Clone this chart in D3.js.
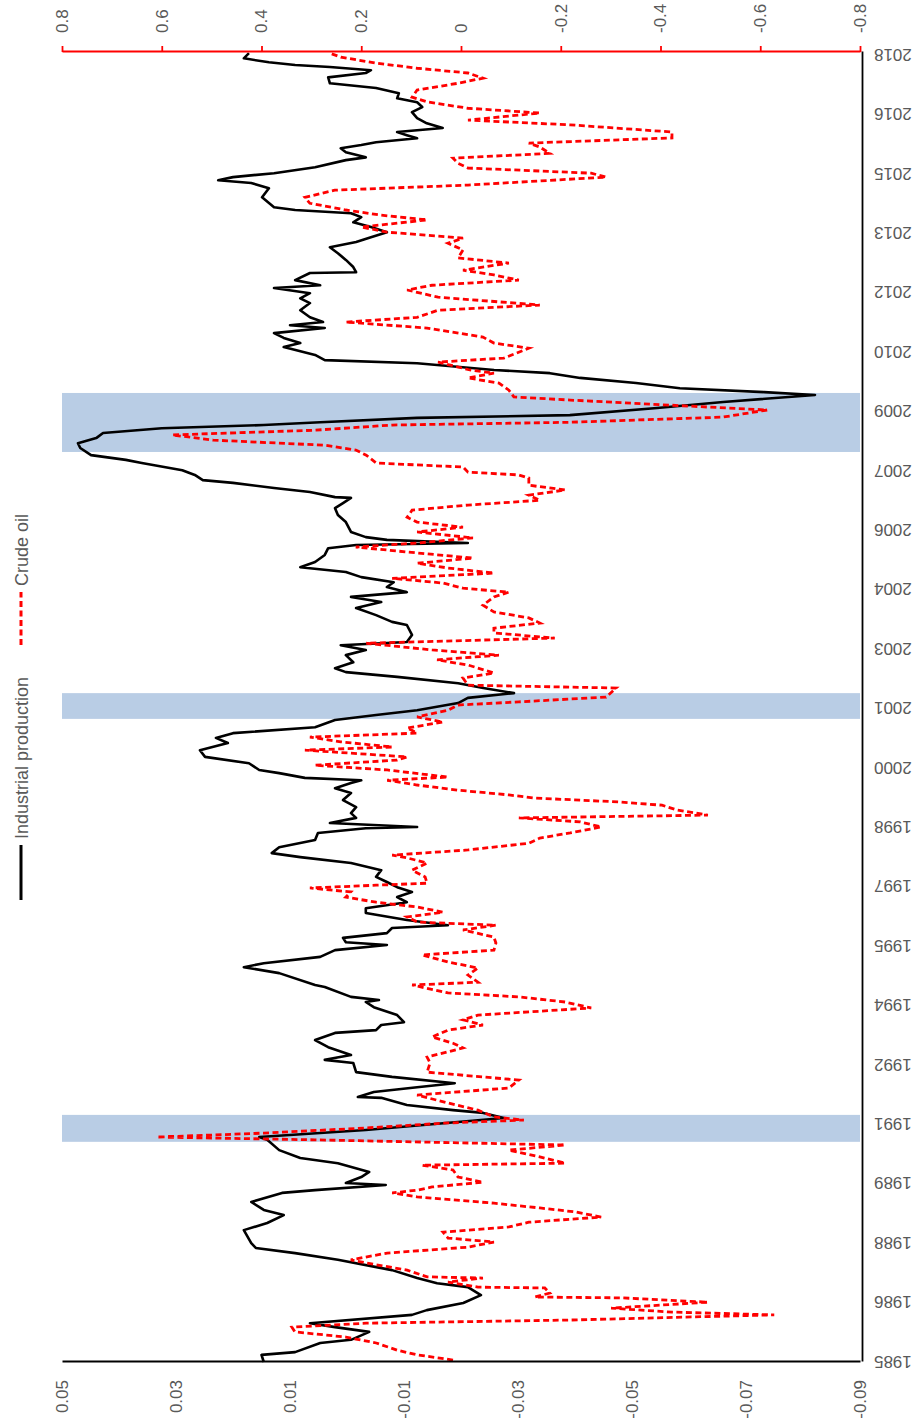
<!DOCTYPE html>
<html><head><meta charset="utf-8">
<script src="https://cdn.jsdelivr.net/npm/d3@7"></script>
<style>html,body{margin:0;padding:0;background:#fff;} svg{display:block;}</style>
</head><body>
<svg id="c" width="919" height="1427"></svg>
<script>
// ---------- data ----------
const seriesNames = ["Industrial production", "Crude oil"];
const ipTicks = [0.05, 0.03, 0.01, -0.01, -0.03, -0.05, -0.07, -0.09];
const ipTickLabels = ["0.05", "0.03", "0.01", "-0.01", "-0.03", "-0.05", "-0.07", "-0.09"];
const oilTicks = [0.8, 0.6, 0.4, 0.2, 0, -0.2, -0.4, -0.6, -0.8];
const oilTickLabels = ["0.8", "0.6", "0.4", "0.2", "0", "-0.2", "-0.4", "-0.6", "-0.8"];
const yearTicks = [1985, 1986.5, 1988, 1989.5, 1991, 1992.5, 1994, 1995.5, 1997, 1998.5, 2000, 2001.5,
  2003, 2004.5, 2006, 2007.5, 2009, 2010.5, 2012, 2013.5, 2015, 2016.5, 2018];
const yearTickLabels = ["1985", "1986", "1988", "1989", "1991", "1992", "1994", "1995", "1997", "1998", "2000", "2001",
  "2003", "2004", "2006", "2007", "2009", "2010", "2012", "2013", "2015", "2016", "2018"];
const recessions = [[1990.56, 1991.24], [2001.24, 2001.89], [2007.98, 2009.47]];

// [decimal year, value]
const industrialProduction = [
[1985.00,0.0146],[1985.18,0.0150],[1985.25,0.0091],[1985.48,0.0047],[1985.56,-0.0007],[1985.76,-0.0039],
[1985.88,0.0021],[1985.98,0.0065],[1986.19,-0.0114],[1986.31,-0.0140],[1986.49,-0.0204],[1986.69,-0.0235],
[1986.89,-0.0212],[1986.99,-0.0158],[1987.12,-0.0123],[1987.32,-0.0079],[1987.58,0.0016],[1987.75,0.0091],
[1987.88,0.0160],[1988.00,0.0168],[1988.33,0.0181],[1988.51,0.0140],[1988.71,0.0111],[1988.84,0.0146],
[1989.04,0.0168],[1989.27,0.0114],[1989.34,0.0056],[1989.47,-0.0068],[1989.52,0.0002],[1989.67,-0.0025],
[1989.80,-0.0039],[1990.02,0.0016],[1990.15,0.0082],[1990.35,0.0119],[1990.61,0.0140],[1990.68,0.0154],
[1990.86,-0.0033],[1991.16,-0.0275],[1991.29,-0.0239],[1991.36,-0.0186],[1991.49,-0.0105],[1991.67,-0.0060],
[1991.69,-0.0019],[1991.82,-0.0047],[1991.94,-0.0123],[1992.04,-0.0189],[1992.20,-0.0079],[1992.32,-0.0016],
[1992.55,-0.0011],[1992.63,0.0039],[1992.75,-0.0007],[1992.95,0.0033],[1993.13,0.0056],[1993.31,0.0021],
[1993.38,-0.0051],[1993.51,-0.0060],[1993.58,-0.0100],[1993.76,-0.0088],[1993.96,-0.0047],[1994.09,-0.0033],
[1994.14,-0.0056],[1994.22,-0.0007],[1994.47,0.0039],[1994.52,0.0056],[1994.82,0.0119],[1994.97,0.0181],
[1995.07,0.0146],[1995.23,0.0047],[1995.40,0.0021],[1995.53,-0.0070],[1995.60,0.0002],[1995.71,0.0007],
[1995.83,-0.0070],[1995.96,-0.0079],[1996.03,-0.0177],[1996.16,-0.0105],[1996.34,-0.0033],[1996.46,-0.0033],
[1996.61,-0.0105],[1996.74,-0.0088],[1996.87,-0.0114],[1996.99,-0.0088],[1997.12,-0.0070],[1997.25,-0.0051],
[1997.42,-0.0060],[1997.60,-0.0007],[1997.75,0.0082],[1997.85,0.0132],[1998.00,0.0119],[1998.18,0.0056],
[1998.36,0.0051],[1998.48,-0.0033],[1998.51,-0.0123],[1998.61,0.0030],[1998.74,-0.0016],[1998.86,-0.0007],
[1999.01,-0.0016],[1999.19,0.0007],[1999.37,-0.0007],[1999.49,0.0021],[1999.62,-0.0007],[1999.69,-0.0025],
[1999.75,0.0074],[1999.87,0.0119],[1999.95,0.0154],[2000.12,0.0172],[2000.28,0.0249],[2000.45,0.0258],
[2000.63,0.0209],[2000.76,0.0230],[2000.88,0.0200],[2001.03,0.0056],[2001.21,0.0021],[2001.34,-0.0051],
[2001.46,-0.0123],[2001.64,-0.0195],[2001.77,-0.0212],[2001.89,-0.0293],[2002.02,-0.0239],[2002.14,-0.0195],
[2002.30,-0.0088],[2002.42,0.0002],[2002.52,0.0021],[2002.67,-0.0011],[2002.85,0.0002],[2002.98,-0.0033],
[2003.10,0.0011],[2003.18,-0.0105],[2003.36,-0.0114],[2003.61,-0.0105],[2003.69,-0.0079],[2003.86,-0.0051],
[2004.04,-0.0016],[2004.19,-0.0060],[2004.32,-0.0007],[2004.44,-0.0105],[2004.57,-0.0070],[2004.69,-0.0082],
[2004.82,-0.0025],[2004.95,0.0002],[2005.07,0.0082],[2005.20,0.0056],[2005.38,0.0039],[2005.55,0.0033],
[2005.63,-0.0016],[2005.68,-0.0212],[2005.76,-0.0070],[2005.83,-0.0033],[2005.96,-0.0007],[2006.21,0.0002],
[2006.39,0.0016],[2006.56,0.0021],[2006.69,0.0007],[2006.82,-0.0007],[2006.84,0.0021],[2006.97,0.0065],
[2007.07,0.0128],[2007.20,0.0200],[2007.27,0.0253],[2007.40,0.0267],[2007.52,0.0289],[2007.70,0.0360],
[2007.78,0.0388],[2007.90,0.0449],[2008.08,0.0468],[2008.20,0.0472],[2008.33,0.0440],[2008.46,0.0428],
[2008.58,0.0325],[2008.66,0.0146],[2008.73,0.0047],[2008.84,-0.0123],[2008.91,-0.0391],[2009.09,-0.0544],
[2009.24,-0.0660],[2009.42,-0.0821],[2009.49,-0.0732],[2009.59,-0.0584],[2009.72,-0.0507],[2009.85,-0.0409],
[2009.97,-0.0356],[2010.05,-0.0258],[2010.22,-0.0123],[2010.30,0.0039],[2010.43,0.0056],[2010.63,0.0111],
[2010.73,0.0082],[2010.86,0.0111],[2010.98,0.0128],[2011.11,0.0039],[2011.18,0.0100],[2011.26,0.0042],
[2011.38,0.0065],[2011.56,0.0082],[2011.74,0.0065],[2011.86,0.0082],[2011.99,0.0065],[2012.12,0.0128],
[2012.19,0.0047],[2012.32,0.0091],[2012.50,0.0065],[2012.52,-0.0016],[2012.65,-0.0011],[2012.83,0.0002],
[2013.00,0.0016],[2013.15,0.0030],[2013.28,-0.0016],[2013.40,-0.0042],[2013.53,-0.0070],[2013.66,-0.0042],
[2013.78,-0.0011],[2013.91,-0.0025],[2014.01,-0.0007],[2014.09,0.0091],[2014.16,0.0128],[2014.41,0.0149],
[2014.64,0.0137],[2014.77,0.0168],[2014.84,0.0226],[2014.92,0.0200],[2015.02,0.0128],[2015.17,0.0056],
[2015.35,0.0002],[2015.42,-0.0033],[2015.55,0.0002],[2015.65,0.0011],[2015.73,-0.0025],[2015.80,-0.0051],
[2015.90,-0.0123],[2015.98,-0.0105],[2016.06,-0.0088],[2016.16,-0.0168],[2016.28,-0.0140],[2016.41,-0.0123],
[2016.56,-0.0114],[2016.69,-0.0132],[2016.81,-0.0123],[2016.91,-0.0088],[2017.04,-0.0091],[2017.17,-0.0051],
[2017.29,0.0030],[2017.44,0.0033],[2017.55,-0.0033],[2017.62,-0.0042],[2017.70,0.0030],[2017.75,0.0091],
[2017.82,0.0137],[2017.92,0.0181],[2018.05,0.0172]
];

const crudeOil = [
[1985.05,0.016],[1985.18,0.088],[1985.30,0.128],[1985.48,0.170],[1985.63,0.231],[1985.76,0.333],
[1985.88,0.339],[1985.98,0.190],[1986.06,-0.219],[1986.19,-0.628],[1986.26,-0.423],[1986.36,-0.301],
[1986.51,-0.495],[1986.62,-0.321],[1986.64,-0.148],[1986.74,-0.178],[1986.87,-0.168],[1986.89,-0.034],
[1987.02,0.026],[1987.12,-0.044],[1987.15,0.068],[1987.32,0.108],[1987.50,0.190],[1987.58,0.221],
[1987.75,0.148],[1987.90,-0.014],[1988.03,-0.066],[1988.13,0.026],[1988.28,0.036],[1988.41,-0.096],
[1988.53,-0.136],[1988.66,-0.281],[1988.79,-0.229],[1988.89,-0.158],[1989.01,-0.066],[1989.17,0.088],
[1989.27,0.138],[1989.34,0.088],[1989.42,0.058],[1989.54,-0.044],[1989.67,0.006],[1989.85,0.016],
[1989.97,0.078],[1990.02,-0.209],[1990.18,-0.158],[1990.35,-0.096],[1990.48,-0.209],[1990.61,0.293],
[1990.68,0.610],[1990.78,0.395],[1990.91,0.190],[1991.03,0.036],[1991.11,-0.126],[1991.19,-0.066],
[1991.36,-0.034],[1991.54,0.026],[1991.74,0.088],[1991.92,-0.096],[1992.12,-0.116],[1992.32,0.068],
[1992.55,0.062],[1992.70,0.068],[1992.93,-0.004],[1993.05,0.016],[1993.21,0.058],[1993.38,0.026],
[1993.51,-0.044],[1993.64,-0.004],[1993.76,-0.034],[1993.94,-0.261],[1994.09,-0.209],[1994.22,-0.116],
[1994.32,0.026],[1994.52,0.098],[1994.59,-0.034],[1994.77,-0.014],[1994.95,-0.034],[1995.10,0.026],
[1995.28,0.078],[1995.40,-0.066],[1995.58,-0.070],[1995.73,-0.066],[1995.91,-0.004],[1996.03,-0.070],
[1996.11,0.088],[1996.24,0.108],[1996.36,0.036],[1996.49,0.088],[1996.61,0.170],[1996.74,0.231],
[1996.87,0.221],[1996.97,0.303],[1997.04,0.170],[1997.09,0.068],[1997.25,0.072],[1997.42,0.098],
[1997.60,0.068],[1997.73,0.108],[1997.80,0.138],[1997.93,-0.014],[1998.10,-0.136],[1998.23,-0.158],
[1998.36,-0.219],[1998.51,-0.281],[1998.64,-0.239],[1998.74,-0.116],[1998.81,-0.495],[1998.94,-0.433],
[1999.06,-0.403],[1999.14,-0.321],[1999.24,-0.148],[1999.32,-0.096],[1999.44,0.006],[1999.57,0.088],
[1999.69,0.148],[1999.77,0.026],[1999.95,0.148],[2000.07,0.293],[2000.20,0.128],[2000.28,0.108],
[2000.45,0.313],[2000.53,0.138],[2000.66,0.241],[2000.78,0.303],[2000.88,0.088],[2001.01,0.108],
[2001.16,0.036],[2001.29,0.088],[2001.46,0.026],[2001.59,0.006],[2001.67,-0.116],[2001.79,-0.291],
[2002.02,-0.311],[2002.09,-0.014],[2002.27,-0.004],[2002.40,-0.066],[2002.60,-0.014],[2002.73,0.048],
[2002.85,-0.076],[2002.98,0.058],[2003.15,0.190],[2003.28,-0.188],[2003.41,-0.066],[2003.53,-0.066],
[2003.66,-0.158],[2003.79,-0.136],[2003.94,-0.066],[2004.11,-0.044],[2004.32,-0.066],[2004.44,-0.096],
[2004.54,-0.004],[2004.67,0.036],[2004.79,0.138],[2004.92,-0.066],[2005.05,0.026],[2005.17,0.088],
[2005.30,-0.024],[2005.43,0.088],[2005.58,0.211],[2005.68,0.088],[2005.81,-0.024],[2005.96,0.088],
[2006.08,-0.004],[2006.21,0.088],[2006.33,0.108],[2006.51,0.098],[2006.64,-0.014],[2006.76,-0.158],
[2006.89,-0.136],[2007.02,-0.209],[2007.14,-0.136],[2007.32,-0.136],[2007.40,-0.116],[2007.47,-0.014],
[2007.60,-0.004],[2007.70,0.170],[2007.90,0.190],[2008.03,0.211],[2008.15,0.273],[2008.28,0.497],
[2008.41,0.579],[2008.53,0.293],[2008.66,0.138],[2008.73,-0.219],[2008.86,-0.525],[2009.04,-0.614],
[2009.16,-0.423],[2009.29,-0.219],[2009.37,-0.106],[2009.54,-0.096],[2009.72,-0.076],[2009.85,-0.014],
[2009.97,-0.066],[2010.05,-0.018],[2010.25,0.046],[2010.35,-0.086],[2010.60,-0.136],[2010.73,-0.066],
[2010.88,-0.044],[2011.11,0.068],[2011.26,0.231],[2011.38,0.088],[2011.56,0.046],[2011.69,-0.158],
[2011.89,0.046],[2012.07,0.108],[2012.19,0.058],[2012.32,-0.116],[2012.45,-0.066],[2012.57,-0.004],
[2012.75,-0.096],[2012.88,0.006],[2013.08,-0.004],[2013.25,0.026],[2013.38,-0.004],[2013.53,0.148],
[2013.66,0.200],[2013.84,0.068],[2013.96,0.160],[2014.09,0.231],[2014.26,0.303],[2014.41,0.313],
[2014.59,0.253],[2014.72,-0.014],[2014.92,-0.291],[2015.02,-0.261],[2015.15,-0.014],[2015.27,0.006],
[2015.40,0.016],[2015.52,-0.178],[2015.68,-0.158],[2015.78,-0.136],[2015.91,-0.423],[2016.06,-0.423],
[2016.24,-0.219],[2016.36,-0.014],[2016.54,-0.158],[2016.66,-0.014],[2016.82,0.068],[2016.94,0.098],
[2017.12,0.088],[2017.29,0.006],[2017.42,-0.044],[2017.55,-0.014],[2017.67,0.088],[2017.80,0.170],
[2017.95,0.241],[2018.05,0.263]
];

// ---------- drawing (chart drawn landscape, then turned 90deg counter-clockwise) ----------
const W = 1427, H = 919;
const FONT = "'Liberation Sans', Arial, sans-serif";
const TXT = "#595959";
const svg = d3.select("#c");
const g = svg.append("g").attr("transform", `translate(0,${W}) rotate(-90)`);

const x = d3.scaleLinear().domain([1985, 2018.08]).range([65, 1375]);
const yIP = d3.scaleLinear().domain([0.05, -0.09]).range([62, 860]);
const yOil = d3.scaleLinear().domain([0.8, -0.8]).range([62, 860]);

// recession bands
g.append("g").selectAll("rect").data(recessions).join("rect")
  .attr("x", d => x(d[0])).attr("width", d => x(d[1]) - x(d[0]))
  .attr("y", yIP.range()[0]).attr("height", yIP.range()[1] - yIP.range()[0])
  .attr("fill", "#b9cde5");

// lines
g.append("path").datum(industrialProduction)
  .attr("fill", "none").attr("stroke", "#000").attr("stroke-width", 2.6)
  .attr("stroke-linejoin", "round")
  .attr("d", d3.line().x(d => x(d[0])).y(d => yIP(d[1])));

g.append("path").datum(crudeOil)
  .attr("fill", "none").attr("stroke", "#ff0000").attr("stroke-width", 2.8)
  .attr("stroke-dasharray", "6,3.5")
  .attr("d", d3.line().x(d => x(d[0])).y(d => yOil(d[1])));

// left axis (industrial production)
const axL = g.append("g").attr("transform", `translate(${x.range()[0]},0)`)
  .call(d3.axisLeft(yIP).tickValues(ipTicks).tickSize(0).tickPadding(18)
    .tickFormat((d, i) => ipTickLabels[i]));
axL.select(".domain").attr("stroke", "#000").attr("stroke-width", 1.8);
axL.selectAll("text").attr("fill", TXT).style("font-family", FONT).style("font-size", "17px");

// right axis (crude oil), red
const axR = g.append("g").attr("transform", `translate(${x.range()[1]},0)`)
  .call(d3.axisRight(yOil).tickValues(oilTicks).tickSizeInner(6).tickSizeOuter(0).tickPadding(13)
    .tickFormat((d, i) => oilTickLabels[i]));
axR.select(".domain").attr("stroke", "#ff0000").attr("stroke-width", 1.8);
axR.selectAll(".tick line").attr("stroke", "#ff0000").attr("stroke-width", 1.8);
axR.selectAll("text").attr("fill", TXT).style("font-family", FONT).style("font-size", "17px");

// bottom axis (years)
const axB = g.append("g").attr("transform", `translate(0,862)`)
  .call(d3.axisBottom(x).tickValues(yearTicks).tickSize(0)
    .tickFormat((d, i) => yearTickLabels[i]));
axB.select(".domain").attr("stroke", "#000").attr("stroke-width", 1.8);
axB.selectAll("text")
  .attr("fill", TXT).style("font-family", FONT).style("font-size", "17px")
  .attr("transform", "rotate(-90)").attr("x", -12).attr("y", 0).attr("dy", "0.35em")
  .style("text-anchor", "end");

// legend
const leg = g.append("g");
const legendItems = [
  {name: seriesNames[0], x0: 527, x1: 582, color: "#000", dash: null},
  {name: seriesNames[1], x0: 782, x1: 835, color: "#ff0000", dash: "6,3.5"}
];
legendItems.forEach(it => {
  leg.append("line").attr("x1", it.x0).attr("x2", it.x1).attr("y1", 21).attr("y2", 21)
    .attr("stroke", it.color).attr("stroke-width", 3).attr("stroke-dasharray", it.dash);
  leg.append("text").attr("x", it.x1 + 6).attr("y", 22).attr("dy", "0.35em")
    .attr("fill", TXT).style("font-family", FONT).style("font-size", "18px").text(it.name);
});
</script>
</body></html>
